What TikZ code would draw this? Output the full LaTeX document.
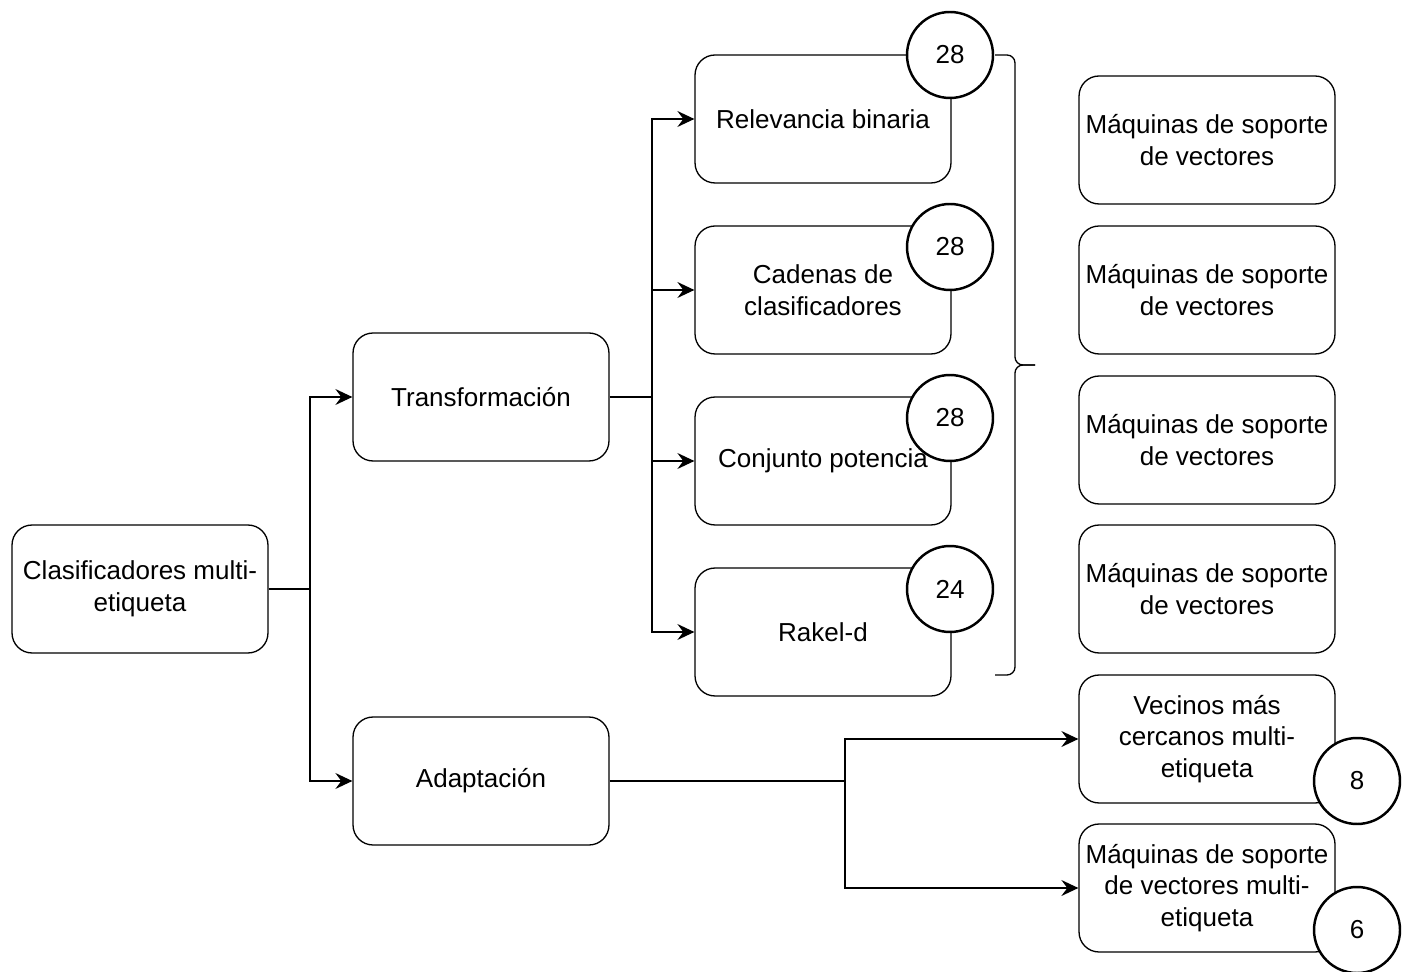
\documentclass[tikz,border=0pt]{standalone}
\usepackage{fontspec}
\setmainfont{Liberation Sans}
\usetikzlibrary{arrows.meta}
\begin{document}
\begin{tikzpicture}[x=0.02cm, y=-0.02cm,
  font=\fontsize{14.8}{18}\selectfont,
  box/.style={draw, rounded corners=0.4cm, align=center, line width=0.75pt,
    minimum width=5.12cm, minimum height=2.56cm, inner sep=0pt},
  count/.style={draw, circle, fill=white, line width=1.4pt, minimum size=1.72cm, inner sep=0pt},
  arr/.style={line width=0.8pt, -{Stealth[length=0.34cm, width=0.32cm, inset=0.12cm]}}]
\useasboundingbox (0,0) rectangle (1409,972);

% left part
\node[box] (clas) at (140,589) {Clasificadores multi-\\etiqueta};
\node[box] (trans) at (481,397) {Transformaci\'on};
\node[box] (adapt) at (481,781) {Adaptaci\'on};

% transformation methods
\node[box] (rel) at (823,119) {Relevancia binaria};
\node[box] (cad) at (823,290) {Cadenas de\\clasificadores};
\node[box] (conj) at (823,461) {Conjunto potencia};
\node[box] (rakel) at (823,632) {Rakel-d};

\node[count] (n1) at (950,55) {28};
\node[count] (n2) at (950,247) {28};
\node[count] (n3) at (950,418) {28};
\node[count] (n4) at (950,589) {24};

% base classifiers
\node[box] (svm1) at (1207,140) {M\'aquinas de soporte\\de vectores};
\node[box] (svm2) at (1207,290) {M\'aquinas de soporte\\de vectores};
\node[box] (svm3) at (1207,440) {M\'aquinas de soporte\\de vectores};
\node[box] (svm4) at (1207,589) {M\'aquinas de soporte\\de vectores};

% adaptation methods
\node[box] (knn) at (1207,739) {Vecinos m\'as\\cercanos multi-\\etiqueta};
\node[box] (svmml) at (1207,888) {M\'aquinas de soporte\\de vectores multi-\\etiqueta};
\node[count] (n5) at (1357,781) {8};
\node[count] (n6) at (1357,930) {6};

\coordinate (j1) at (310,589);
\coordinate (j2) at (652,397);
\coordinate (j3) at (845,781);

\draw[arr] (clas.east) -- (j1) |- (trans.west);
\draw[arr] (j1) |- (adapt.west);

\draw[arr] (trans.east) -- (j2) |- (rel.west);
\draw[arr] (j2) |- (cad.west);
\draw[arr] (j2) |- (conj.west);
\draw[arr] (j2) |- (rakel.west);

\draw[arr] (adapt.east) -- (j3) |- (knn.west);
\draw[arr] (j3) |- (svmml.west);

% brace
\draw[line width=0.75pt, rounded corners=0.16cm] (995,55) -- (1015,55) -- (1015,365) -- (1035,365);
\draw[line width=0.75pt, rounded corners=0.16cm] (1035,365) -- (1015,365) -- (1015,675) -- (995,675);
\end{tikzpicture}
\end{document}
